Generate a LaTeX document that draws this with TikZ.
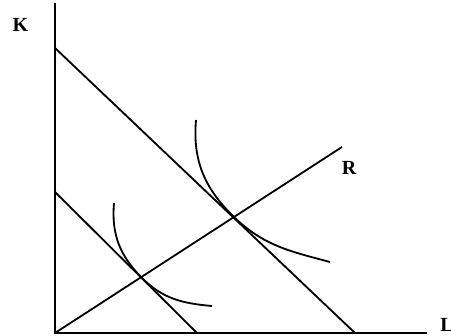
\documentclass[tikz,border=0pt]{standalone}
\usepackage{fontspec}
\setmainfont{Liberation Serif}
\usetikzlibrary{positioning}
\tikzset{ln/.style={line width=1pt},lbl/.style={font=\fontsize{11}{13}\selectfont\bfseries,inner sep=0pt}}

\begin{document}
\begin{tikzpicture}[x=0.193mm,y=0.193mm]
\useasboundingbox(-55,-2)rectangle(396,333);
\coordinate(O)at(0,0);
\coordinate(ytop)at(0,330);
\coordinate(xend)at(372,0);
\coordinate(b1)at(0,285);\coordinate(b2)at(300,0);
\coordinate(s1)at(0,141);\coordinate(s2)at(142,0);
\coordinate(rend)at(287,186);
\coordinate(tb)at(179,116);\coordinate(ts)at(87,55);
\node[lbl](K)at(-34.5,308.5){K};
\node[lbl](L)at(392,8){L};
\node[lbl](R)at(294,165){R};
\draw[ln](ytop)--(O)--(xend);
\draw[ln](b1)--(b2);
\draw[ln](s1)--(s2);
\draw[ln](O)--(rend);
\draw[ln](141,213)to[out=-95,in=136](tb)to[out=-44,in=165](275,71);
\draw[ln](59,130)to[out=-95,in=135](ts)to[out=-45,in=175](157,27);
\end{tikzpicture}
\end{document}
